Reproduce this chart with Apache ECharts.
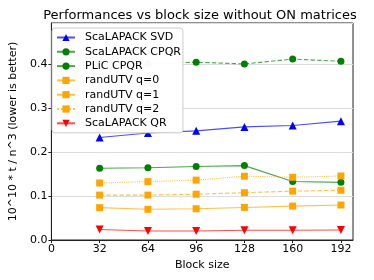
<!DOCTYPE html>
<html><head><meta charset="utf-8">
<script src="https://cdn.jsdelivr.net/npm/echarts@6/dist/echarts.min.js"></script>
<style>html,body{margin:0;padding:0;background:#fff}#c{width:374px;height:280px}</style>
</head><body><div id="c"></div>
<script>
var blockSizes = [32, 64, 96, 128, 160, 192];
var scalapackSVD = [0.233, 0.243, 0.248, 0.257, 0.260, 0.270];
var scalapackCPQR = [0.400, 0.401, 0.404, 0.400, 0.411, 0.406];
var plicCPQR = [0.163, 0.164, 0.167, 0.169, 0.133, 0.131];
var randUTVq0 = [0.0735, 0.0697, 0.071, 0.074, 0.077, 0.0795];
var randUTVq1 = [0.102, 0.102, 0.104, 0.1075, 0.111, 0.113];
var randUTVq2 = [0.1295, 0.1326, 0.136, 0.145, 0.1425, 0.1455];
var scalapackQR = [0.024, 0.0205, 0.0205, 0.022, 0.022, 0.0227];

function pts(arr){ return blockSizes.map(function(x,i){ return [x, arr[i]]; }); }
var FONT = 'DejaVu Sans';
function S(name, data, color, symbol, lineType, size, rot){
  return {
    name: name, type: 'line', data: pts(data),
    symbol: symbol, symbolSize: size, symbolRotate: rot || 0,
    itemStyle: {color: color, opacity: 1},
    lineStyle: {color: color, width: 1.1, type: lineType, opacity: 0.7},
    emphasis: {disabled: true}, animation: false
  };
}
var chart = echarts.init(document.getElementById('c'));
chart.setOption({
  animation: false,
  title: {text: 'Performances vs block size without ON matrices', left: 195, textAlign: 'center', top: 4,
    textStyle: {fontFamily: FONT, fontSize: 13, fontWeight: 'normal', color: '#000'}},
  grid: {left: 47, right: 21, top: 23, bottom: 40, show: true, borderColor: '#222', borderWidth: 1},
  legend: {
    orient: 'vertical', left: 52, top: 28, padding: [4, 2, 4, 4],
    itemWidth: 18, itemHeight: 9, itemGap: 3.3,
    backgroundColor: 'rgba(255,255,255,0.97)', borderColor: '#ccc', borderWidth: 1, borderRadius: 3,
    textStyle: {fontFamily: FONT, fontSize: 11, color: '#000', padding: [0, 0, 0, 5]},
    data: ['ScaLAPACK SVD', 'ScaLAPACK CPQR', 'PLiC CPQR', 'randUTV q=0', 'randUTV q=1', 'randUTV q=2', 'ScaLAPACK QR']
  },
  xAxis: {
    type: 'value', min: 0, max: 200, interval: 32,
    name: 'Block size', nameLocation: 'middle', nameGap: 19,
    nameTextStyle: {fontFamily: FONT, fontSize: 11, color: '#000'},
    axisLine: {lineStyle: {color: '#222'}},
    axisTick: {length: 3, lineStyle: {color: '#222'}},
    axisLabel: {fontFamily: FONT, fontSize: 11, color: '#000', margin: 4, showMaxLabel: false},
    splitLine: {show: false}
  },
  yAxis: {
    type: 'value', min: 0, max: 0.493, interval: 0.1,
    name: '10^10 * t / n^3 (lower is better)', nameLocation: 'middle', nameGap: 28,
    nameTextStyle: {fontFamily: FONT, fontSize: 11, color: '#000'},
    axisLine: {show: true, lineStyle: {color: '#222'}},
    axisTick: {show: true, length: 3, lineStyle: {color: '#222'}},
    axisLabel: {fontFamily: FONT, fontSize: 11, color: '#000', margin: 4, showMaxLabel: false,
      formatter: function(v){ return v.toFixed(1); }},
    splitLine: {show: true, lineStyle: {color: '#dcdcdc', width: 1}}
  },
  series: [
    S('ScaLAPACK SVD', scalapackSVD, '#0000ff', 'triangle', 'solid', 8),
    S('ScaLAPACK CPQR', scalapackCPQR, '#008000', 'circle', 'dashed', 7),
    S('PLiC CPQR', plicCPQR, '#008000', 'circle', 'solid', 7),
    S('randUTV q=0', randUTVq0, '#ffa500', 'rect', 'solid', 7),
    S('randUTV q=1', randUTVq1, '#ffa500', 'rect', 'dashed', 7),
    S('randUTV q=2', randUTVq2, '#ffa500', 'rect', 'dotted', 7),
    S('ScaLAPACK QR', scalapackQR, '#ff0000', 'triangle', 'solid', 8, 180)
  ]
});
</script></body></html>
